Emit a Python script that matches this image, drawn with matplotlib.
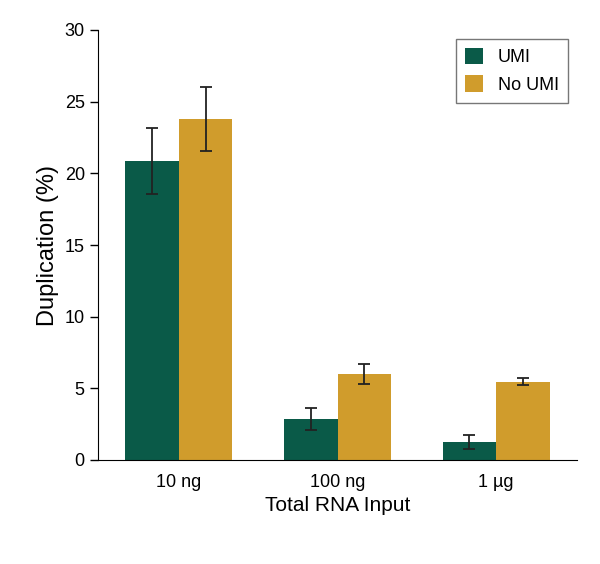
import matplotlib
matplotlib.use("Agg")
import matplotlib.pyplot as plt
import numpy as np

plt.rcParams['font.family'] = ['Liberation Sans', 'DejaVu Sans']

categories = ["10 ng", "100 ng", "1 µg"]
umi = [20.85, 2.85, 1.25]
umi_err = [2.3, 0.75, 0.5]
no_umi = [23.8, 6.0, 5.45]
no_umi_err = [2.25, 0.7, 0.25]

fig = plt.figure(figsize=(6, 5.64), dpi=100)
ax = fig.add_axes([98/600, 1-460/564, 479/600, 430/564])
x = np.arange(len(categories))
w = 0.3375
ek = dict(ecolor='#222222', elinewidth=1.3, capsize=4, capthick=1.3)
ax.bar(x - w/2, umi, w, yerr=umi_err, color='#0a5a48', label='UMI', error_kw=ek)
ax.bar(x + w/2, no_umi, w, yerr=no_umi_err, color='#d09c2c', label='No UMI', error_kw=ek)
ax.set_xlim(-0.51, 2.51)
ax.set_ylim(0, 30)
ax.set_yticks([0, 5, 10, 15, 20, 25, 30])
ax.set_xticks(x)
ax.set_xticklabels(categories)
ax.tick_params(axis='both', labelsize=13, length=6, width=1)
ax.tick_params(axis='x', length=0, pad=10)
for s in ['top', 'right']:
    ax.spines[s].set_visible(False)
ax.set_ylabel('Duplication (%)', fontsize=17)
ax.set_xlabel('Total RNA Input', fontsize=15, labelpad=4)
leg = ax.legend(loc='upper right', fontsize=13, fancybox=False, edgecolor='#555555',
                borderpad=0.5, handlelength=1.0, handleheight=1.0, bbox_to_anchor=(1.0, 1.0))
leg.get_frame().set_linewidth(1)
fig.savefig('out.png', dpi=100)
